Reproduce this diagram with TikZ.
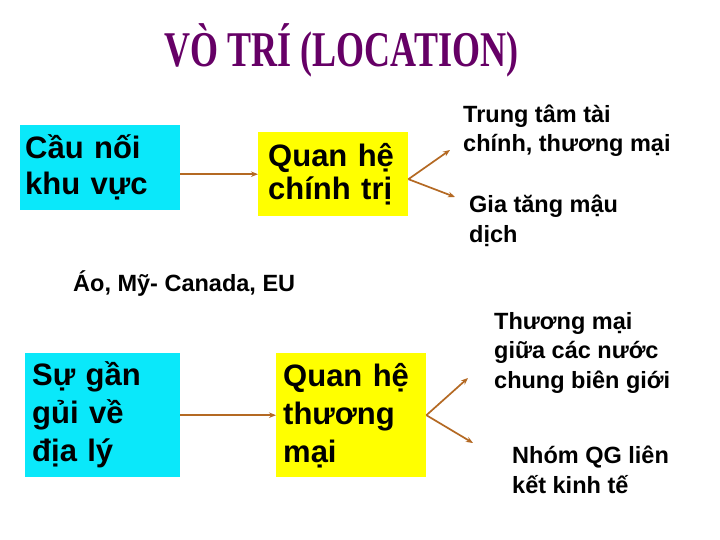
\documentclass[tikz,border=0pt]{standalone}
\usepackage{fontspec}
\setmainfont{Liberation Sans}
\newfontfamily\titlefont{Liberation Serif}
\usetikzlibrary{arrows.meta}
\definecolor{titlepurple}{RGB}{102,0,102}
\definecolor{boxcyan}{RGB}{10,232,250}
\definecolor{boxyellow}{RGB}{255,255,0}
\definecolor{arrowbrown}{RGB}{180,105,35}
\begin{document}
\begin{tikzpicture}[x=1pt,y=-1pt,
  bigbox/.style={inner ysep=0pt, anchor=north west, align=left,
    font=\fontsize{31}{33}\selectfont\bfseries},
  cyanbox/.style={bigbox, fill=boxcyan},
  yellowbox/.style={bigbox, fill=boxyellow},
  smalltext/.style={inner sep=0pt, anchor=base west, align=left,
    font=\fontsize{23.5}{29.5}\selectfont\bfseries},
  conn/.style={draw=arrowbrown, line width=1.7pt, -{Stealth[length=7pt,width=5.5pt]}}
]
\useasboundingbox (0,0) rectangle (720,540);
\fill[white] (0,0) rectangle (720,540);

\node[anchor=base, text=titlepurple, inner sep=0pt] (title) at (341.5,67)
  {\scalebox{0.72}[1]{\titlefont\fontsize{50}{56}\selectfont\bfseries VÒ TRÍ (LOCATION)}};

% top row
\node[cyanbox, minimum width=160pt, minimum height=85pt, text width=150pt, inner xsep=5pt,
  font=\fontsize{31}{36}\selectfont\bfseries] (c1) at (20,125) {Cầu nối\\khu vực};
\node[yellowbox, minimum width=150pt, minimum height=84pt, text width=130pt, inner xsep=10pt] (y1) at (258,132) {Quan hệ\\chính trị};
\draw[conn] (c1.east |- y1.west) -- (y1.west);

\coordinate (t1) at (450,150);
\coordinate (t2) at (455,197);
\draw[conn] ([yshift=-5pt]y1.east) -- (t1);
\draw[conn] ([yshift=-5pt]y1.east) -- (t2);

\node[smalltext] (r1) at (463,152) {Trung tâm tài\\chính, thương mại};
\node[smalltext] (r2) at (469,242) {Gia tăng mậu\\dịch};

\node[smalltext] (ex) at (73,291) {Áo, Mỹ- Canada, EU};

% bottom row
\node[cyanbox, minimum width=155pt, minimum height=124pt, text width=141pt, inner xsep=7pt,
  font=\fontsize{31}{38}\selectfont\bfseries] (c2) at (25,353) {Sự gần\\gủi về\\địa lý};
\node[yellowbox, minimum width=150pt, minimum height=124pt, text width=136pt, inner xsep=7pt,
  font=\fontsize{31}{38}\selectfont\bfseries] (y2) at (276,353) {Quan hệ\\thương\\mại};
\draw[conn] (c2.east |- y2.west) -- (y2.west);

\coordinate (t3) at (468,378);
\coordinate (t4) at (473,443);
\draw[conn] (y2.east) -- (t3);
\draw[conn] (y2.east) -- (t4);

\node[smalltext] (r3) at (494,388) {Thương mại\\giữa các nước\\chung biên giới};
\node[smalltext] (r4) at (512,493) {Nhóm QG liên\\kết kinh tế};
\end{tikzpicture}
\end{document}
